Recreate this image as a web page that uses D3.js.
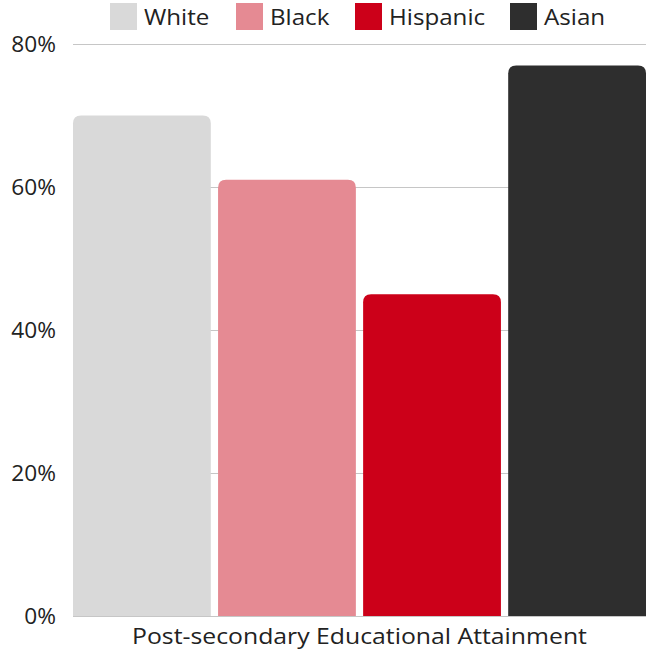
<!DOCTYPE html>
<html>
<head>
<meta charset="utf-8">
<script src="https://cdn.jsdelivr.net/npm/d3@7"></script>
<style>
  html, body { margin: 0; padding: 0; background: #fff; }
  svg { display: block; font-family: "Open Sans", "Noto Sans", sans-serif; }
</style>
</head>
<body>
<svg id="chart" width="650" height="654"></svg>
<script>
// Share of each group with post-secondary educational attainment
const categories = ["White", "Black", "Hispanic", "Asian"];
const values = [70, 61, 45, 77];
const colors = ["#d9d9d9", "#e58a93", "#cc0019", "#2e2e2e"];
const yTicks = [0, 20, 40, 60, 80];
const axisTitle = "Post-secondary Educational Attainment";

const svg = d3.select("#chart");
const plotLeft = 73, plotRight = 646, plotTop = 44, plotBottom = 616;
const fontSize = 21;

// widen text slightly so the narrow fallback font fills the same space
function widen(sel, factor) {
  sel.each(function () {
    const w = this.getComputedTextLength();
    d3.select(this).attr("textLength", w * factor).attr("lengthAdjust", "spacingAndGlyphs");
  });
}

const x = d3.scaleBand().domain(categories).range([plotLeft, plotRight])
  .paddingInner(0.05).paddingOuter(0);
const y = d3.scaleLinear().domain([0, 80]).range([plotBottom, plotTop]);

// gridlines
svg.append("g").selectAll("line").data(yTicks).join("line")
  .attr("x1", plotLeft).attr("x2", plotRight)
  .attr("y1", d => y(d) + 0.5).attr("y2", d => y(d) + 0.5)
  .attr("stroke", "#c6c6c6").attr("stroke-width", 1);

// y axis labels
const yAxis = d3.axisLeft(y).tickValues(yTicks).tickFormat(d => d + "%").tickSize(0).tickPadding(17);
const yg = svg.append("g").attr("transform", `translate(${plotLeft},0)`).call(yAxis);
yg.select(".domain").remove();
yg.selectAll("text").attr("font-size", fontSize).attr("fill", "#222")
  .attr("font-family", "\"Open Sans\", sans-serif").attr("dy", "0.35em")
  .call(widen, 1.08);

// bars with rounded top corners
const radius = 8;
function topRounded(x0, y0, w, h) {
  const rr = Math.min(radius, h, w / 2);
  return `M${x0},${y0 + h}V${y0 + rr}Q${x0},${y0} ${x0 + rr},${y0}` +
         `H${x0 + w - rr}Q${x0 + w},${y0} ${x0 + w},${y0 + rr}V${y0 + h}Z`;
}
svg.append("g").selectAll("path").data(categories).join("path")
  .attr("d", (c, i) => topRounded(x(c), y(values[i]), x.bandwidth(), y(0) - y(values[i])))
  .attr("fill", (c, i) => colors[i]);

// x axis title
svg.append("text")
  .attr("x", (plotLeft + plotRight) / 2).attr("y", 644)
  .attr("text-anchor", "middle").attr("font-size", fontSize).attr("fill", "#222")
  .text(axisTitle)
  .call(widen, 1.18);

// legend
const legendX = [110, 236, 355, 510];
const lg = svg.append("g").selectAll("g").data(categories).join("g")
  .attr("transform", (c, i) => `translate(${legendX[i]},3)`);
lg.append("rect").attr("width", 27).attr("height", 27).attr("fill", (c, i) => colors[i]);
lg.append("text").attr("x", 34).attr("y", 21.5).attr("font-size", fontSize).attr("fill", "#222")
  .text(c => c)
  .call(widen, 1.15);
</script>
</body>
</html>
